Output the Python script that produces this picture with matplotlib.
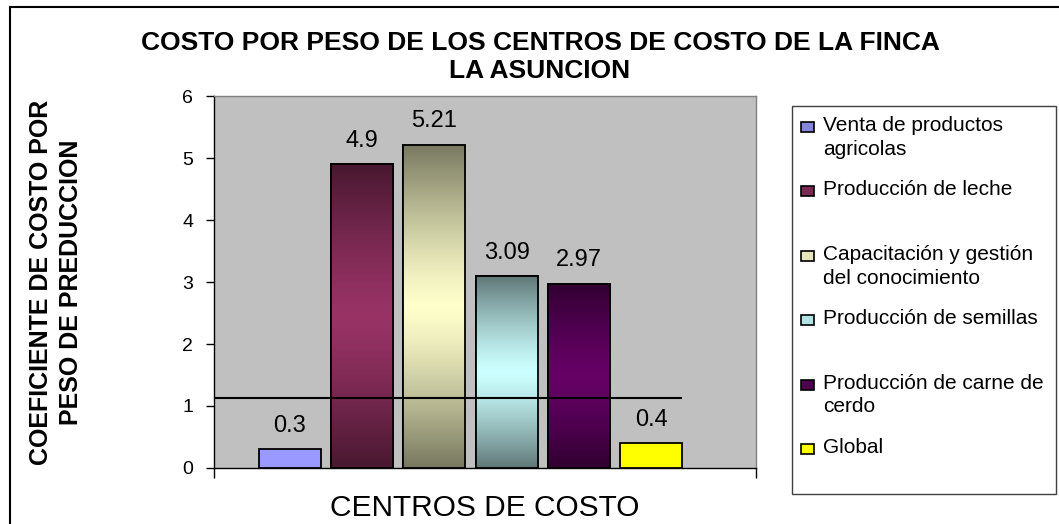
import numpy as np
import matplotlib
matplotlib.use('Agg')
import matplotlib.pyplot as plt
from matplotlib.patches import Rectangle
from matplotlib.lines import Line2D
from matplotlib.colors import to_rgb

plt.rcParams['font.family'] = ['Liberation Sans', 'DejaVu Sans']

# datos
centros = ['Venta de productos\nagricolas', 'Producción de leche',
           'Capacitación y gestión\ndel conocimiento', 'Producción de semillas',
           'Producción de carne de\ncerdo', 'Global']
valores = [0.3, 4.9, 5.21, 3.09, 2.97, 0.4]
etiquetas = ['0.3', '4.9', '5.21', '3.09', '2.97', '0.4']
colores = ['#9999FF', '#993366', '#FFFFCC', '#CCFFFF', '#660066', '#FFFF00']
degradado = [False, True, True, True, True, False]
colores_leyenda = ['#8585dd', '#7a2a52', '#e6e6bc', '#b0e4e4', '#500050', '#FFFF00']
linea_ref = 1.13

W, H = 1059, 524
fig = plt.figure(figsize=(W / 100, H / 100), dpi=100)
fig.patch.set_facecolor('white')

ax = fig.add_axes([214 / W, 1 - 468 / H, (756 - 214) / W, (468 - 96) / H])
ax.set_facecolor('#C0C0C0')

x = np.arange(len(valores))
ancho = 0.86
barras = ax.bar(x, valores, width=ancho, color=colores, edgecolor='black',
                linewidth=1.3, zorder=3)

# degradado vertical oscuro-claro-oscuro
t = np.abs(np.linspace(-1, 1, 256)) ** 1.3
for b, c, g in zip(barras, colores, degradado):
    if not g:
        continue
    claro = np.array(to_rgb(c))
    oscuro = claro * 0.47
    img = claro[None, :] * (1 - t[:, None]) + oscuro[None, :] * t[:, None]
    x0, w, h = b.get_x(), b.get_width(), b.get_height()
    ax.imshow(img[:, None, :], extent=(x0, x0 + w, 0, h), aspect='auto',
              zorder=3.5, interpolation='bilinear')
    ax.add_patch(Rectangle((x0, 0), w, h, fill=False, edgecolor='black',
                           linewidth=1.3, zorder=4))

for b, lab in zip(barras, etiquetas):
    ax.annotate(lab, (b.get_x() + b.get_width() / 2, b.get_height()),
                xytext=(0, 17), textcoords='offset points', ha='center',
                va='center', fontsize=17, zorder=5)

ax.hlines(linea_ref, -1.05, barras[-1].get_x() + barras[-1].get_width(),
          color='black', linewidth=1.5, zorder=6)

ax.set_xlim(-1.05, 6.45)
ax.set_ylim(0, 6)
ax.set_yticks(range(0, 7))
ax.set_xticks([-1.05, 6.45])
ax.set_xticklabels([])
ax.tick_params(axis='y', direction='out', length=6, width=1, labelsize=14, pad=9)
ax.tick_params(axis='x', direction='out', length=7, width=1)
for s in ['top', 'right']:
    ax.spines[s].set_color('#808080')
    ax.spines[s].set_linewidth(1)
for s in ['left', 'bottom']:
    ax.spines[s].set_color('black')
    ax.spines[s].set_linewidth(1)

# titulos
fig.text(540 / W, 1 - 43 / H, 'COSTO POR PESO DE LOS CENTROS DE COSTO DE LA FINCA',
         ha='center', va='center', fontsize=19, fontweight='bold')
fig.text(540 / W, 1 - 71 / H, 'LA ASUNCION', ha='center', va='center',
         fontsize=19, fontweight='bold')
fig.text(56 / W, 1 - 282 / H, 'COEFICIENTE DE COSTO POR\nPESO DE PREDUCCION',
         ha='center', va='center', rotation=90, fontsize=18, fontweight='bold',
         multialignment='center', linespacing=1.32)
fig.text(485 / W, 1 - 508 / H, 'CENTROS DE COSTO', ha='center', va='center',
         fontsize=21.5)

# leyenda manual
fig.patches.append(Rectangle((792 / W, 1 - 494 / H), (1056 - 792) / W, (494 - 106) / H,
                             transform=fig.transFigure, facecolor='white',
                             edgecolor='#404040', linewidth=1))
for i, (nom, c) in enumerate(zip(centros, colores_leyenda)):
    yc = 127 + i * 64.4
    fig.patches.append(Rectangle((801 / W, 1 - (yc + 5) / H), 13 / W, 10 / H,
                                 transform=fig.transFigure, facecolor=c,
                                 edgecolor='black', linewidth=1.2))
    fig.text(823 / W, 1 - (yc - 11) / H, nom, ha='left', va='top', fontsize=15,
             linespacing=1.32)

# marco exterior
fig.add_artist(Line2D([10 / W, 10 / W], [-0.1, 1 - 7 / H], color='black', linewidth=1.5,
                      transform=fig.transFigure))
fig.add_artist(Line2D([10 / W, 1.1], [1 - 7 / H, 1 - 7 / H], color='black', linewidth=1.5,
                      transform=fig.transFigure))

fig.savefig('out.png', dpi=100)
